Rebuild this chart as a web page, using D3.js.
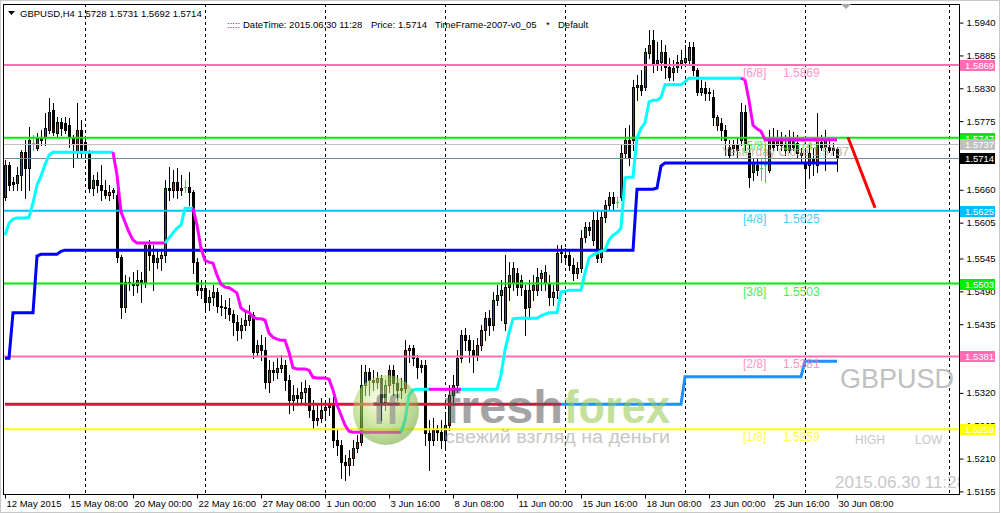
<!DOCTYPE html>
<meta charset="utf-8">
<style>
body { margin: 0; background: #fff; }
svg { display: block; }
text { font-family: "Liberation Sans", Arial, sans-serif; }
</style>
<svg width="1001" height="514"></svg>
<script src="https://d3js.org/d3.v7.min.js"></script>
<script>

// GBPUSD H4 candles, bar 0 = 12 May 2015 16:00, bar 208 = 30 Jun 2015 08:00
var opens = [1.5648,1.5702,1.5673,1.5671,1.5685,1.5723,1.5697,1.5738,1.5730,1.5748,
  1.5748,1.5760,1.5794,1.5755,1.5774,1.5772,1.5769,1.5748,1.5723,1.5760,
  1.5740,1.5723,1.5663,1.5676,1.5668,1.5660,1.5651,1.5656,1.5651,1.5548,
  1.5464,1.5506,1.5504,1.5501,1.5509,1.5504,1.5568,1.5551,1.5539,1.5546,
  1.5551,1.5663,1.5660,1.5673,1.5660,1.5665,1.5665,1.5656,1.5539,1.5492,
  1.5496,1.5472,1.5481,1.5489,1.5465,1.5464,1.5462,1.5452,1.5439,1.5425,
  1.5434,1.5442,1.5450,1.5388,1.5400,1.5392,1.5338,1.5358,1.5355,1.5362,
  1.5367,1.5341,1.5308,1.5316,1.5311,1.5321,1.5328,1.5291,1.5275,1.5278,
  1.5291,1.5296,1.5300,1.5241,1.5233,1.5204,1.5199,1.5211,1.5228,1.5238,
  1.5333,1.5355,1.5341,1.5338,1.5345,1.5305,1.5333,1.5358,1.5336,1.5325,
  1.5328,1.5392,1.5395,1.5378,1.5363,1.5367,1.5253,1.5241,1.5258,1.5254,
  1.5241,1.5266,1.5316,1.5333,1.5378,1.5417,1.5408,1.5392,1.5383,1.5400,
  1.5425,1.5445,1.5434,1.5476,1.5484,1.5437,1.5497,1.5504,1.5521,1.5497,
  1.5492,1.5464,1.5492,1.5492,1.5512,1.5504,1.5504,1.5481,1.5492,1.5554,
  1.5551,1.5551,1.5534,1.5521,1.5529,1.5581,1.5598,1.5576,1.5609,1.5548,
  1.5614,1.5635,1.5648,1.5640,1.5648,1.5722,1.5743,1.5743,1.5832,1.5836,
  1.5832,1.5889,1.5911,1.5872,1.5874,1.5891,1.5866,1.5857,1.5866,1.5872,
  1.5874,1.5877,1.5899,1.5861,1.5824,1.5830,1.5822,1.5815,1.5769,1.5772,
  1.5760,1.5732,1.5730,1.5735,1.5743,1.5790,1.5722,1.5690,1.5702,1.5697,
  1.5702,1.5693,1.5743,1.5735,1.5743,1.5735,1.5727,1.5743,1.5738,1.5722,
  1.5705,1.5702,1.5713,1.5702,1.5740,1.5732,1.5732,1.5730,1.5728];
var highs = [1.5710,1.5707,1.5681,1.5698,1.5727,1.5743,1.5765,1.5752,1.5755,1.5760,
  1.5789,1.5814,1.5805,1.5782,1.5780,1.5782,1.5780,1.5752,1.5805,1.5777,
  1.5747,1.5727,1.5685,1.5690,1.5702,1.5676,1.5668,1.5663,1.5660,1.5551,
  1.5517,1.5514,1.5522,1.5526,1.5522,1.5571,1.5576,1.5568,1.5559,1.5556,
  1.5676,1.5698,1.5693,1.5697,1.5685,1.5676,1.5690,1.5660,1.5546,1.5509,
  1.5501,1.5492,1.5501,1.5496,1.5484,1.5476,1.5479,1.5459,1.5450,1.5445,
  1.5455,1.5467,1.5455,1.5408,1.5417,1.5414,1.5375,1.5372,1.5378,1.5383,
  1.5375,1.5350,1.5333,1.5328,1.5338,1.5341,1.5333,1.5308,1.5300,1.5311,
  1.5308,1.5311,1.5313,1.5258,1.5241,1.5216,1.5224,1.5241,1.5249,1.5367,
  1.5367,1.5362,1.5358,1.5355,1.5350,1.5341,1.5367,1.5367,1.5350,1.5345,
  1.5408,1.5400,1.5400,1.5383,1.5375,1.5375,1.5274,1.5278,1.5266,1.5274,
  1.5283,1.5333,1.5350,1.5392,1.5425,1.5429,1.5417,1.5408,1.5412,1.5434,
  1.5455,1.5459,1.5489,1.5501,1.5509,1.5551,1.5539,1.5539,1.5529,1.5517,
  1.5501,1.5509,1.5517,1.5529,1.5526,1.5534,1.5517,1.5501,1.5568,1.5568,
  1.5563,1.5559,1.5546,1.5539,1.5593,1.5606,1.5606,1.5623,1.5626,1.5626,
  1.5643,1.5656,1.5656,1.5648,1.5735,1.5763,1.5769,1.5844,1.5852,1.5861,
  1.5897,1.5928,1.5928,1.5908,1.5911,1.5903,1.5881,1.5877,1.5886,1.5894,
  1.5903,1.5908,1.5908,1.5864,1.5844,1.5841,1.5830,1.5827,1.5785,1.5780,
  1.5769,1.5743,1.5743,1.5747,1.5805,1.5802,1.5735,1.5713,1.5713,1.5713,
  1.5735,1.5760,1.5763,1.5760,1.5757,1.5752,1.5760,1.5757,1.5752,1.5730,
  1.5727,1.5735,1.5730,1.5789,1.5752,1.5760,1.5743,1.5738,1.5731];
var lows = [1.5643,1.5660,1.5660,1.5660,1.5660,1.5646,1.5660,1.5727,1.5727,1.5735,
  1.5735,1.5755,1.5752,1.5748,1.5752,1.5755,1.5732,1.5698,1.5715,1.5713,
  1.5713,1.5656,1.5651,1.5656,1.5643,1.5646,1.5643,1.5646,1.5539,1.5445,
  1.5455,1.5492,1.5484,1.5489,1.5472,1.5497,1.5526,1.5492,1.5529,1.5526,
  1.5539,1.5643,1.5648,1.5646,1.5651,1.5656,1.5635,1.5521,1.5484,1.5479,
  1.5459,1.5459,1.5467,1.5455,1.5450,1.5445,1.5442,1.5417,1.5408,1.5412,
  1.5425,1.5434,1.5378,1.5382,1.5375,1.5328,1.5321,1.5341,1.5345,1.5355,
  1.5325,1.5286,1.5291,1.5300,1.5305,1.5300,1.5280,1.5261,1.5266,1.5271,
  1.5275,1.5283,1.5229,1.5216,1.5177,1.5174,1.5182,1.5199,1.5221,1.5233,
  1.5316,1.5316,1.5325,1.5328,1.5275,1.5291,1.5321,1.5316,1.5308,1.5311,
  1.5321,1.5372,1.5367,1.5345,1.5355,1.5233,1.5191,1.5233,1.5241,1.5228,
  1.5224,1.5258,1.5300,1.5321,1.5372,1.5392,1.5372,1.5355,1.5375,1.5392,
  1.5408,1.5417,1.5425,1.5467,1.5442,1.5425,1.5476,1.5492,1.5484,1.5484,
  1.5417,1.5445,1.5476,1.5484,1.5492,1.5492,1.5467,1.5467,1.5479,1.5539,
  1.5539,1.5526,1.5509,1.5512,1.5522,1.5573,1.5584,1.5568,1.5539,1.5539,
  1.5606,1.5626,1.5626,1.5631,1.5643,1.5713,1.5702,1.5727,1.5810,1.5819,
  1.5827,1.5881,1.5857,1.5861,1.5861,1.5847,1.5844,1.5844,1.5857,1.5864,
  1.5867,1.5869,1.5852,1.5819,1.5819,1.5810,1.5810,1.5769,1.5760,1.5743,
  1.5718,1.5713,1.5718,1.5713,1.5735,1.5727,1.5665,1.5676,1.5685,1.5676,
  1.5673,1.5690,1.5727,1.5727,1.5727,1.5718,1.5723,1.5727,1.5713,1.5708,
  1.5663,1.5680,1.5685,1.5690,1.5727,1.5693,1.5723,1.5718,1.5692];
var closes = [1.5702,1.5668,1.5670,1.5685,1.5723,1.5697,1.5743,1.5738,1.5747,1.5743,
  1.5763,1.5790,1.5757,1.5774,1.5763,1.5760,1.5748,1.5738,1.5760,1.5722,
  1.5723,1.5663,1.5676,1.5668,1.5660,1.5651,1.5656,1.5660,1.5548,1.5464,
  1.5506,1.5504,1.5501,1.5509,1.5504,1.5568,1.5551,1.5539,1.5546,1.5551,
  1.5663,1.5660,1.5673,1.5660,1.5663,1.5665,1.5656,1.5539,1.5492,1.5496,
  1.5472,1.5481,1.5489,1.5465,1.5464,1.5462,1.5452,1.5439,1.5425,1.5434,
  1.5442,1.5450,1.5388,1.5400,1.5392,1.5338,1.5358,1.5355,1.5362,1.5367,
  1.5341,1.5308,1.5316,1.5311,1.5321,1.5328,1.5291,1.5275,1.5278,1.5291,
  1.5296,1.5300,1.5241,1.5233,1.5204,1.5199,1.5211,1.5228,1.5238,1.5333,
  1.5355,1.5341,1.5338,1.5345,1.5305,1.5333,1.5358,1.5336,1.5325,1.5328,
  1.5392,1.5395,1.5378,1.5363,1.5367,1.5253,1.5241,1.5258,1.5254,1.5241,
  1.5266,1.5316,1.5333,1.5378,1.5417,1.5408,1.5392,1.5383,1.5400,1.5425,
  1.5445,1.5434,1.5476,1.5484,1.5492,1.5497,1.5517,1.5529,1.5497,1.5509,
  1.5462,1.5492,1.5501,1.5514,1.5521,1.5522,1.5481,1.5489,1.5554,1.5556,
  1.5548,1.5534,1.5521,1.5529,1.5579,1.5598,1.5593,1.5609,1.5546,1.5614,
  1.5635,1.5648,1.5638,1.5640,1.5722,1.5743,1.5715,1.5832,1.5836,1.5827,
  1.5891,1.5903,1.5872,1.5877,1.5891,1.5866,1.5849,1.5864,1.5874,1.5877,
  1.5881,1.5899,1.5861,1.5824,1.5830,1.5822,1.5824,1.5782,1.5782,1.5760,
  1.5743,1.5718,1.5735,1.5727,1.5790,1.5738,1.5681,1.5705,1.5693,1.5697,
  1.5702,1.5743,1.5732,1.5743,1.5735,1.5727,1.5743,1.5732,1.5722,1.5718,
  1.5697,1.5722,1.5705,1.5743,1.5732,1.5743,1.5727,1.5727,1.5714];

// trailing line, one value per bar; colour flips at these bars (starts cyan)
var trail = [1.5584,1.5604,1.5611,1.5613,1.5613,1.5613,1.5614,1.5638,1.5668,1.5683,
  1.5702,1.5718,1.5723,1.5723,1.5723,1.5723,1.5723,1.5723,1.5723,1.5723,
  1.5723,1.5723,1.5723,1.5723,1.5723,1.5723,1.5723,1.5723,1.5685,1.5623,
  1.5606,1.5589,1.5576,1.5571,1.5571,1.5571,1.5571,1.5571,1.5571,1.5571,
  1.5571,1.5579,1.5588,1.5596,1.5601,1.5629,1.5629,1.5629,1.5601,1.5562,
  1.5542,1.5539,1.5537,1.5517,1.5502,1.5497,1.5496,1.5492,1.5487,1.5462,
  1.5457,1.5455,1.5447,1.5444,1.5444,1.5442,1.5420,1.5413,1.5410,1.5408,
  1.5408,1.5388,1.5362,1.5360,1.5360,1.5360,1.5358,1.5346,1.5345,1.5345,
  1.5345,1.5343,1.5325,1.5300,1.5283,1.5266,1.5256,1.5254,1.5254,1.5254,
  1.5254,1.5254,1.5254,1.5254,1.5254,1.5254,1.5254,1.5254,1.5254,1.5254,
  1.5274,1.5316,1.5325,1.5326,1.5326,1.5326,1.5326,1.5326,1.5326,1.5326,
  1.5326,1.5326,1.5326,1.5326,1.5326,1.5326,1.5326,1.5326,1.5326,1.5326,
  1.5326,1.5326,1.5326,1.5326,1.5350,1.5392,1.5420,1.5444,1.5445,1.5445,
  1.5445,1.5445,1.5445,1.5445,1.5449,1.5452,1.5454,1.5454,1.5454,1.5489,
  1.5490,1.5492,1.5492,1.5492,1.5492,1.5521,1.5546,1.5551,1.5554,1.5557,
  1.5559,1.5576,1.5584,1.5588,1.5596,1.5680,1.5681,1.5681,1.5747,1.5763,
  1.5772,1.5807,1.5810,1.5810,1.5815,1.5836,1.5836,1.5836,1.5836,1.5836,
  1.5841,1.5847,1.5847,1.5847,1.5847,1.5847,1.5847,1.5847,1.5847,1.5847,
  1.5847,1.5847,1.5847,1.5847,1.5847,1.5844,1.5810,1.5768,1.5762,1.5758,
  1.5744,1.5744,1.5744,1.5744,1.5744,1.5744,1.5744,1.5744,1.5744,1.5744,
  1.5744,1.5744,1.5744,1.5744,1.5744,1.5744,1.5744,1.5744,1.5744];
var trailFlips = [27, 40, 47, 99, 106, 114, 184];

// stepped support line (bar, price)
var supportLine = [[0,1.5378],[1,1.5378],[2,1.5454],[7,1.5454],[8,1.5549],[9,1.5552],
  [13,1.5552],[14,1.5557],[15,1.5559],[157,1.5559],[158,1.5661],[162,1.5661],
  [163,1.5663],[164,1.5700],[165,1.5705],[208,1.5705]];
// two-colour line: bearish part then bullish part
var bearLine = [[0,1.5301],[139,1.5301]];
var bullLine = [[139,1.5301],[169,1.5301],[170,1.5347],[199,1.5347],[200,1.5373],[208,1.5373]];
// projection line
var projLine = [[210.75,1.5748],[217.5,1.5630]];

// Murrey math levels
var mmNames = ["[6/8]","[5/8]","[4/8]","[3/8]","[2/8]","[1/8]"];
var mmValues = [1.5869,1.5747,1.5625,1.5503,1.5381,1.5259];
var mmColors = ["#ff6eb4","#00ee00","#00bfff","#00ee00","#ff6eb4","#ffff00"];
var yesterdayClose = 1.5737;
var lastPrice = 1.5714;

var priceTicks = [1.5940,1.5885,1.5830,1.5775,1.5660,1.5605,1.5545,1.5490,1.5435,1.5320,1.5265,1.5210,1.5155];
var timeTickBars = [0,16,32,48,64,80,96,112,128,144,160,176,192,208];
var timeTickLabels = ["12 May 2015","15 May 08:00","20 May 00:00","22 May 16:00","27 May 08:00","1 Jun 00:00","3 Jun 16:00","8 Jun 08:00","11 Jun 00:00","15 Jun 16:00","18 Jun 08:00","23 Jun 00:00","25 Jun 16:00","30 Jun 08:00"];
var gridBars = [20,50,80,110,140,170,200,236];

var svg = d3.select("svg"),
    pL = 3, pT = 4, pR = 959, pB = 494;

var x = d3.scaleLinear().domain([0, 208]).range([5, 837]);
var y = d3.scaleLinear().domain([1.5259, 1.5869]).range([429.3, 65]);
var fmt = d3.format(".4f");

svg.append("rect").attr("x", 0.5).attr("y", 0.5).attr("width", 999).attr("height", 512)
    .attr("fill", "#fff").attr("stroke", "#c8c8c8");

var defs = svg.append("defs");
defs.append("clipPath").attr("id", "clip").append("rect")
    .attr("x", pL + 1).attr("y", pT + 1).attr("width", pR - pL - 1).attr("height", pB - pT - 1);

var g = svg.append("g").attr("clip-path", "url(#clip)");

// vertical grid
g.selectAll(".grid").data(gridBars).enter().append("line")
    .attr("x1", d => Math.round(x(d)) + 0.5).attr("x2", d => Math.round(x(d)) + 0.5)
    .attr("y1", pT).attr("y2", pB)
    .attr("stroke", "#000").attr("stroke-dasharray", "3,3");

// candles
var bars = g.append("g").attr("shape-rendering", "crispEdges");
opens.forEach(function(o, i) {
  var c = closes[i], xc = Math.round(x(i));
  var hi = Math.round(y(highs[i])), lo = Math.round(y(lows[i]));
  if (o === c) {
    var yc = Math.round(y(c));
    bars.append("rect").attr("x", xc).attr("y", hi).attr("width", 1).attr("height", Math.max(1, lo - hi + 1)).attr("fill", "#00ff00");
    bars.append("rect").attr("x", xc - 1).attr("y", yc).attr("width", 3).attr("height", 1).attr("fill", "#00ff00");
    return;
  }
  var t = Math.round(y(Math.max(o, c))), b = Math.round(y(Math.min(o, c)));
  bars.append("rect").attr("x", xc).attr("y", hi).attr("width", 1).attr("height", Math.max(1, lo - hi + 1)).attr("fill", "#000");
  bars.append("rect").attr("x", xc - 1).attr("y", t).attr("width", 3).attr("height", Math.max(1, b - t + 1)).attr("fill", "#000");
  if (c > o && b - t > 1)
    bars.append("rect").attr("x", xc).attr("y", t + 1).attr("width", 1).attr("height", b - t - 1).attr("fill", "#ff0000");
});

// horizontal levels
var levels = g.append("g");
mmValues.forEach(function(v, k) {
  levels.append("line").attr("x1", pL).attr("x2", pR)
      .attr("y1", y(v)).attr("y2", y(v)).attr("stroke", mmColors[k]).attr("stroke-width", 2);
});
levels.append("line").attr("x1", pL).attr("x2", pR)
    .attr("y1", Math.round(y(yesterdayClose)) + 0.5).attr("y2", Math.round(y(yesterdayClose)) + 0.5).attr("stroke", "#c0c0c0");
levels.append("line").attr("x1", pL).attr("x2", pR)
    .attr("y1", Math.round(y(lastPrice)) + 0.5).attr("y2", Math.round(y(lastPrice)) + 0.5).attr("stroke", "#778899");

var line = d3.line().x(d => x(d[0])).y(d => y(d[1]));

g.append("path").attr("d", line(bearLine)).attr("fill", "none").attr("stroke", "#dc143c").attr("stroke-width", 3);
g.append("path").attr("d", line(bullLine)).attr("fill", "none").attr("stroke", "#1e90ff").attr("stroke-width", 3);
g.append("path").attr("d", line(supportLine)).attr("fill", "none").attr("stroke", "#0000ff").attr("stroke-width", 3);

// trailing line split in colour runs
var cuts = [0].concat(trailFlips, [trail.length - 1]);
for (var k = 0; k < cuts.length - 1; k++) {
  var seg = d3.range(cuts[k], cuts[k + 1] + 1).map(i => [i, trail[i]]);
  g.append("path").attr("d", line(seg)).attr("fill", "none")
      .attr("stroke", k % 2 ? "#ff00ff" : "#00ffff").attr("stroke-width", 3);
}

g.append("path").attr("d", line(projLine)).attr("fill", "none").attr("stroke", "#ff0000").attr("stroke-width", 3);

// level captions
mmValues.forEach(function(v, k) {
  g.append("text").attr("x", x(184.5)).attr("y", y(v) + 12).attr("font-size", 12)
      .attr("fill", mmColors[k]).attr("opacity", 0.75).text(mmNames[k]);
  g.append("text").attr("x", x(194.5)).attr("y", y(v) + 12).attr("font-size", 12)
      .attr("fill", mmColors[k]).attr("opacity", 0.75).text(fmt(v));
});
g.append("text").attr("x", 722).attr("y", y(yesterdayClose) + 12).attr("font-size", 12)
    .attr("fill", "#b4a48c").attr("opacity", 0.8).text("Yesterday Close " + fmt(yesterdayClose));

// watermark texts
g.append("text").attr("x", 840).attr("y", 388).attr("font-size", 27).attr("fill", "#c0c0c0").text("GBPUSD");
g.append("text").attr("x", 855).attr("y", 444).attr("font-size", 12).attr("fill", "#c8c8c8").text("HIGH");
g.append("text").attr("x", 915).attr("y", 444).attr("font-size", 12).attr("fill", "#c8c8c8").text("LOW");
g.append("text").attr("x", 835).attr("y", 488).attr("font-size", 17).attr("fill", "#c8c8c8").text("2015.06.30 11:28");

// logo overlay
var rg = defs.append("radialGradient").attr("id", "ball").attr("cx", "40%").attr("cy", "35%").attr("r", "65%");
rg.append("stop").attr("offset", "0%").attr("stop-color", "#f4fbe4");
rg.append("stop").attr("offset", "45%").attr("stop-color", "#b6de6c");
rg.append("stop").attr("offset", "100%").attr("stop-color", "#6aa52a");
var logo = g.append("g").attr("opacity", 0.55);
logo.append("ellipse").attr("cx", 386).attr("cy", 410).attr("rx", 33).attr("ry", 35).attr("fill", "url(#ball)");
logo.append("text").attr("x", 386).attr("y", 424).attr("text-anchor", "middle").attr("font-size", 40)
    .attr("font-weight", "bold").attr("fill", "#5a6a50").text("ff");
logo.append("text").attr("x", 444).attr("y", 423).attr("font-size", 46).attr("font-weight", "bold")
    .attr("textLength", 119).attr("lengthAdjust", "spacingAndGlyphs").attr("fill", "#5a5a5a").text("fresh");
logo.append("text").attr("x", 564).attr("y", 423).attr("font-size", 46).attr("font-weight", "bold")
    .attr("textLength", 106).attr("lengthAdjust", "spacingAndGlyphs").attr("fill", "#93c94a").text("forex");
logo.append("text").attr("x", 445).attr("y", 443).attr("font-size", 18)
    .attr("textLength", 225).attr("lengthAdjust", "spacingAndGlyphs").attr("fill", "#9a9a9a").text("свежий взгляд на деньги");

// frame
svg.append("rect").attr("x", pL + 0.5).attr("y", pT + 0.5).attr("width", pR - pL).attr("height", pB - pT)
    .attr("fill", "none").attr("stroke", "#000");

// price axis
var ya = svg.append("g").attr("transform", "translate(" + (pR + 0.5) + ",0)")
    .call(d3.axisRight(y).tickValues(priceTicks).tickFormat(fmt).tickSize(4).tickPadding(3));
ya.select(".domain").remove();
ya.selectAll("text").attr("font-size", 9.5).attr("font-family", "Liberation Sans, Arial").attr("fill", "#000");
ya.selectAll("line").attr("stroke", "#000");

// time axis
var xa = svg.append("g").attr("transform", "translate(0," + (pB + 0.5) + ")")
    .call(d3.axisBottom(x).tickValues(timeTickBars).tickFormat((d, i) => timeTickLabels[i]).tickSize(4).tickPadding(2));
xa.select(".domain").remove();
xa.selectAll("text").attr("font-size", 9.5).attr("font-family", "Liberation Sans, Arial").attr("fill", "#000")
    .attr("text-anchor", "start").attr("x", 1);
xa.selectAll("line").attr("stroke", "#000");

// price boxes on the axis
var boxes = mmValues.map((v, k) => [v, mmColors[k]])
    .concat([[yesterdayClose, "#c0c0c0"], [lastPrice, "#000"]]);
boxes.forEach(function(b) {
  var yy = Math.round(y(b[0]));
  svg.append("rect").attr("x", pR + 1).attr("y", yy - 5).attr("width", 35).attr("height", 11).attr("fill", b[1]);
  svg.append("text").attr("x", pR + 6).attr("y", yy + 4).attr("font-size", 9.5).attr("fill", "#fff").text(fmt(b[0]));
});

// header
svg.append("path").attr("d", "M8,11L15,11L11.5,15Z").attr("fill", "#000");
svg.append("text").attr("x", 20).attr("y", 17).attr("font-size", 9.5).text("GBPUSD,H4  " +
    [opens[208], highs[208], lows[208], closes[208]].map(fmt).join(" "));
svg.append("text").attr("x", 227).attr("y", 28).attr("font-size", 9.5).attr("fill", "#800080").text(":::::");
svg.append("text").attr("x", 243).attr("y", 28).attr("font-size", 9.5).text("DateTime: 2015.06.30 11:28");
svg.append("text").attr("x", 371).attr("y", 28).attr("font-size", 9.5).text("Price: " + fmt(lastPrice));
svg.append("text").attr("x", 435).attr("y", 28).attr("font-size", 9.5).text("TimeFrame-2007-v0_05");
svg.append("text").attr("x", 546).attr("y", 28).attr("font-size", 9.5).text("*");
svg.append("text").attr("x", 558).attr("y", 28).attr("font-size", 9.5).text("Default");
svg.append("path").attr("d", "M841,4L851,4L846,9Z").attr("fill", "#a8a8a8");

</script>
